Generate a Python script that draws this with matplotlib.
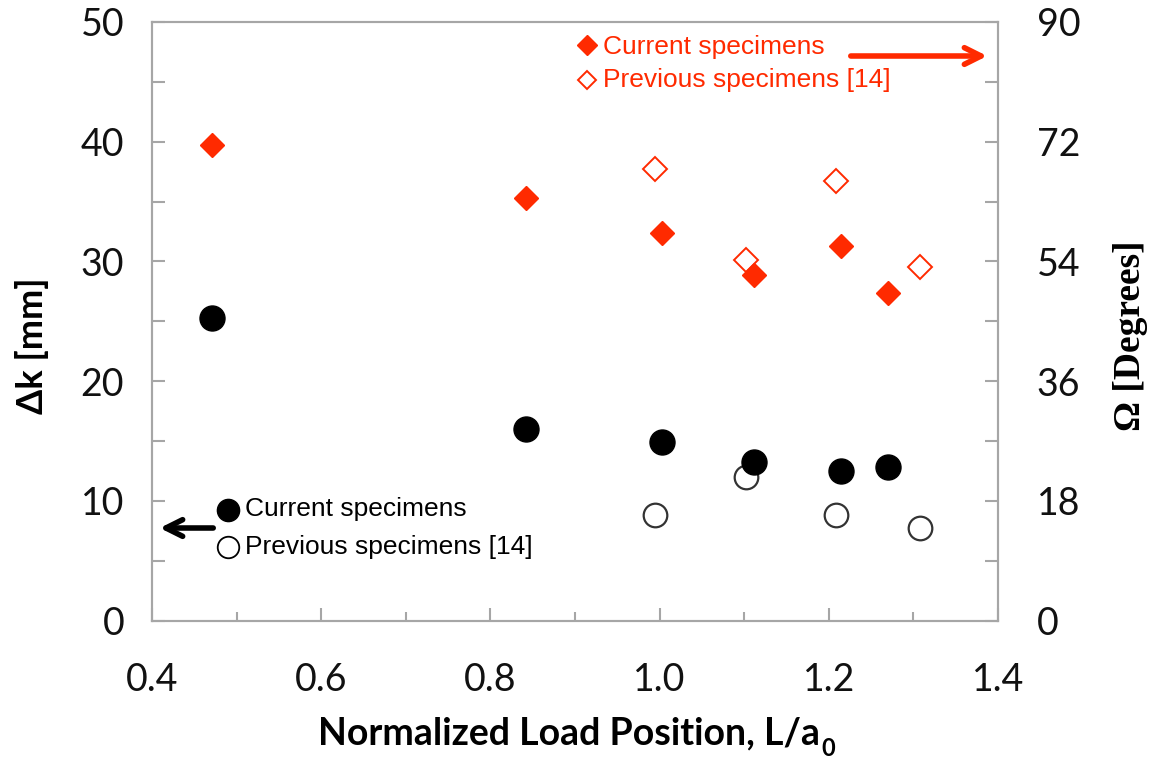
import matplotlib
matplotlib.use('Agg')
import matplotlib.pyplot as plt
from matplotlib.ticker import MultipleLocator

# Data
x_cur = [0.471, 0.842, 1.003, 1.112, 1.215, 1.270]
dk_cur = [25.25, 15.97, 14.95, 13.28, 12.53, 12.86]
omega_cur = [71.5, 63.5, 58.3, 52.0, 56.3, 49.3]

x_prev = [0.995, 1.102, 1.209, 1.308]
dk_prev = [8.83, 11.98, 8.83, 7.72]
omega_prev = [67.9, 54.2, 66.05, 53.1]

RED = '#ff2a00'
GRAY = '#a6a6a6'
TICK_FONT = ['Lato', 'DejaVu Sans']

fig = plt.figure(figsize=(11.54, 7.59), dpi=100)
ax = fig.add_axes([152 / 1154, 1 - 620.7 / 759, 846 / 1154, 598.7 / 759])
ax2 = ax.twinx()

# left axis: crack offset
ax.plot(x_prev, dk_prev, 'o', ms=17, mfc='white', mec='#333333', mew=1.6, zorder=3)
ax.plot(x_cur, dk_cur, 'o', ms=18, mfc='black', mec='black', zorder=4)

# right axis: angle
ax2.plot(x_prev, omega_prev, 'D', ms=12, mfc='white', mec=RED, mew=1.4, zorder=3)
ax2.plot(x_cur, omega_cur, 'D', ms=12.5, mfc=RED, mec=RED, zorder=4)

ax.set_xlim(0.4, 1.4)
ax.set_ylim(0, 50)
ax2.set_ylim(0, 90)
ax.xaxis.set_major_locator(MultipleLocator(0.2))
ax.xaxis.set_minor_locator(MultipleLocator(0.1))
ax.yaxis.set_major_locator(MultipleLocator(10))
ax.yaxis.set_minor_locator(MultipleLocator(5))
ax2.yaxis.set_major_locator(MultipleLocator(18))
ax2.yaxis.set_minor_locator(MultipleLocator(9))
ax.set_xticklabels(['%.1f' % v for v in ax.get_xticks()])

for a in (ax, ax2):
    for s in a.spines.values():
        s.set_color(GRAY)
        s.set_linewidth(1.5)
    a.tick_params(which='both', direction='in', color=GRAY, width=1.5,
                  labelsize=27, labelcolor='#111111')
    a.tick_params(which='major', length=9.5)
    a.tick_params(which='minor', length=6.5)
ax.tick_params(axis='x', pad=30)
ax.tick_params(axis='y', which='both', length=9.5, pad=20)
ax2.tick_params(axis='y', which='both', length=9.5, pad=28)
for lbl in ax.get_xticklabels() + ax.get_yticklabels() + ax2.get_yticklabels():
    lbl.set_family(TICK_FONT)

# axis labels
xl = fig.text(318 / 1154, 1 - 733 / 759, 'Normalized Load Position, L/a',
              ha='left', va='center', fontsize=27, fontweight='bold', family=TICK_FONT)
fig.canvas.draw()
ax.annotate('0', xy=(1, 0.05), xycoords=xl, xytext=(1, 0), textcoords='offset points',
            fontsize=17, fontweight='bold', family=TICK_FONT, ha='left', va='center')
fig.text(32 / 1154, 1 - 346 / 759, 'Δk [mm]', rotation=90, ha='center', va='center',
         fontsize=26, fontweight='bold', family=TICK_FONT)
fig.text(1130 / 1154, 1 - 336 / 759, 'Ω [Degrees]', rotation=90, ha='center', va='center',
         fontsize=27, fontweight='bold', family='Liberation Serif')

# red legend with arrow toward the right axis
fig_px = lambda px, py: (px / 1154, 1 - py / 759)
leg_font = 'Liberation Sans'
fig.lines.append(plt.Line2D(*zip(fig_px(587, 45)), marker='D', ms=10.5, mfc=RED, mec=RED,
                            transform=fig.transFigure))
fig.lines.append(plt.Line2D(*zip(fig_px(587, 80)), marker='D', ms=9, mfc='white', mec=RED,
                            mew=1.4, transform=fig.transFigure))
fig.text(*fig_px(603, 47), 'Current specimens', color=RED, fontsize=19, family=leg_font,
         ha='left', va='center')
fig.text(*fig_px(603, 80), 'Previous specimens [14]', color=RED, fontsize=19, family=leg_font,
         ha='left', va='center')
ax.annotate('', xy=fig_px(990, 56), xycoords='figure fraction',
            xytext=fig_px(848, 56), textcoords='figure fraction',
            arrowprops=dict(arrowstyle='->,head_length=1.2,head_width=0.6', color=RED, lw=4))

# black legend with arrow toward the left axis
fig.lines.append(plt.Line2D(*zip(fig_px(228, 510)), marker='o', ms=16, mfc='black', mec='black',
                            transform=fig.transFigure))
fig.lines.append(plt.Line2D(*zip(fig_px(228, 547)), marker='o', ms=15.5, mfc='white', mec='black',
                            mew=1.3, transform=fig.transFigure))
fig.text(*fig_px(245, 509), 'Current specimens', color='black', fontsize=19, family=leg_font,
         ha='left', va='center')
fig.text(*fig_px(245, 547), 'Previous specimens [14]', color='black', fontsize=19, family=leg_font,
         ha='left', va='center')
ax.annotate('', xy=fig_px(157, 528), xycoords='figure fraction',
            xytext=fig_px(216, 528), textcoords='figure fraction',
            arrowprops=dict(arrowstyle='->,head_length=1.2,head_width=0.6', color='black', lw=4))

fig.savefig('out.png', dpi=100)
